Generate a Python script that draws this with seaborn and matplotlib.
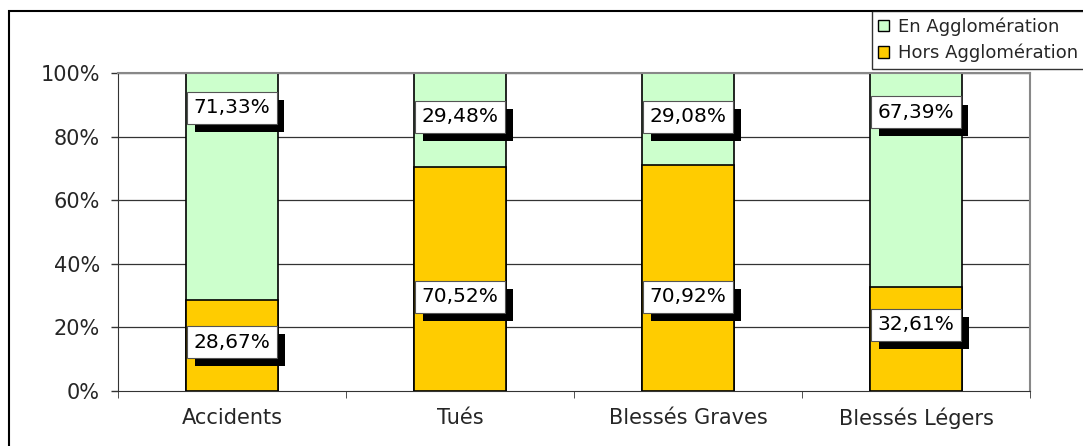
import matplotlib.pyplot as plt
import matplotlib.patheffects as pe
import seaborn as sns
import pandas as pd
from matplotlib.patches import Rectangle

# données
categories = ['Accidents', 'Tués', 'Blessés Graves', 'Blessés Légers']
hors_aggl = [28.67, 70.52, 70.92, 32.61]
en_aggl = [71.33, 29.48, 29.08, 67.39]
labels_hors = ['28,67%', '70,52%', '70,92%', '32,61%']
labels_en = ['71,33%', '29,48%', '29,08%', '67,39%']

# hauteur des étiquettes (placées à la main dans l'original)
label_y_hors = [15.4, 29.6, 29.6, 20.8]
label_y_en = [89.0, 86.2, 86.2, 87.7]

green = '#CCFFCC'
orange = '#FFCC00'

df = pd.DataFrame({'cat': categories, 'hors': hors_aggl, 'en': en_aggl})
df['total'] = df['hors'] + df['en']

sns.set_style('white')
plt.rcParams['font.family'] = ['DejaVu Sans']

fig = plt.figure(figsize=(10.83, 4.46), dpi=100)
ax = fig.add_axes([118 / 1083, 1 - 391 / 446, 912 / 1083, 318 / 446])

# grille horizontale
for v in range(20, 101, 20):
    ax.axhline(v, color='#333333', lw=0.9, zorder=0)

sns.barplot(data=df, x='cat', y='total', color=green, width=0.4,
            edgecolor='black', linewidth=1.2, saturation=1, ax=ax, zorder=2)
sns.barplot(data=df, x='cat', y='hors', color=orange, width=0.4,
            edgecolor='black', linewidth=1.2, saturation=1, ax=ax, zorder=3)


def box_label(x, y, txt):
    # boîte blanche avec ombre noire décalée
    t = ax.annotate(txt, (x, y), ha='center', va='center', fontsize=14.5, color='black', zorder=6,
                    bbox=dict(boxstyle='square,pad=0.32', fc='white', ec='#555555', lw=0.8))
    t.get_bbox_patch().set_path_effects([
        pe.SimplePatchShadow(offset=(5.5, -6), shadow_rgbFace='black', alpha=1), pe.Normal()])


for i in range(len(categories)):
    box_label(i, label_y_hors[i], labels_hors[i])
    box_label(i, label_y_en[i], labels_en[i])

ax.set_xlim(-0.5, 3.5)
ax.set_ylim(0, 100)
ax.set_yticks(range(0, 101, 20))
ax.set_yticklabels([f'{v}%' for v in range(0, 101, 20)])
ax.set_xlabel('')
ax.set_ylabel('')
ax.tick_params(axis='y', length=5, width=1, pad=8, labelsize=15, direction='out', left=True, color='#333333')
ax.tick_params(axis='x', length=0, pad=12, labelsize=15)
ax.set_xticks([-0.5, 0.5, 1.5, 2.5, 3.5], minor=True)
ax.tick_params(axis='x', which='minor', length=5, bottom=True, color='#333333')

for s in ['top', 'right']:
    ax.spines[s].set_color('#888888')
    ax.spines[s].set_linewidth(1.5)
ax.spines['left'].set_color('#333333')
ax.spines['bottom'].set_color('#333333')

# légende
handles = [Rectangle((0, 0), 1, 1, fc=green, ec='black', lw=1),
           Rectangle((0, 0), 1, 1, fc=orange, ec='black', lw=1)]
leg = fig.legend(handles, ['En Agglomération', 'Hors Agglomération'],
                 loc='upper left', bbox_to_anchor=(872 / 1083, 1 - 11 / 446),
                 frameon=True, fancybox=False, fontsize=13, handlelength=0.6,
                 handleheight=0.6, handletextpad=0.5, borderpad=0.35, labelspacing=0.45,
                 borderaxespad=0)
leg.get_frame().set_edgecolor('black')
leg.get_frame().set_linewidth(1)

# cadre extérieur du graphique
fig.patches.append(Rectangle((9 / 1083, -0.05), 1.2, 1.05 - 11 / 446, transform=fig.transFigure,
                             fill=False, ec='black', lw=1.5, zorder=0))

fig.savefig('out.png', dpi=100)
